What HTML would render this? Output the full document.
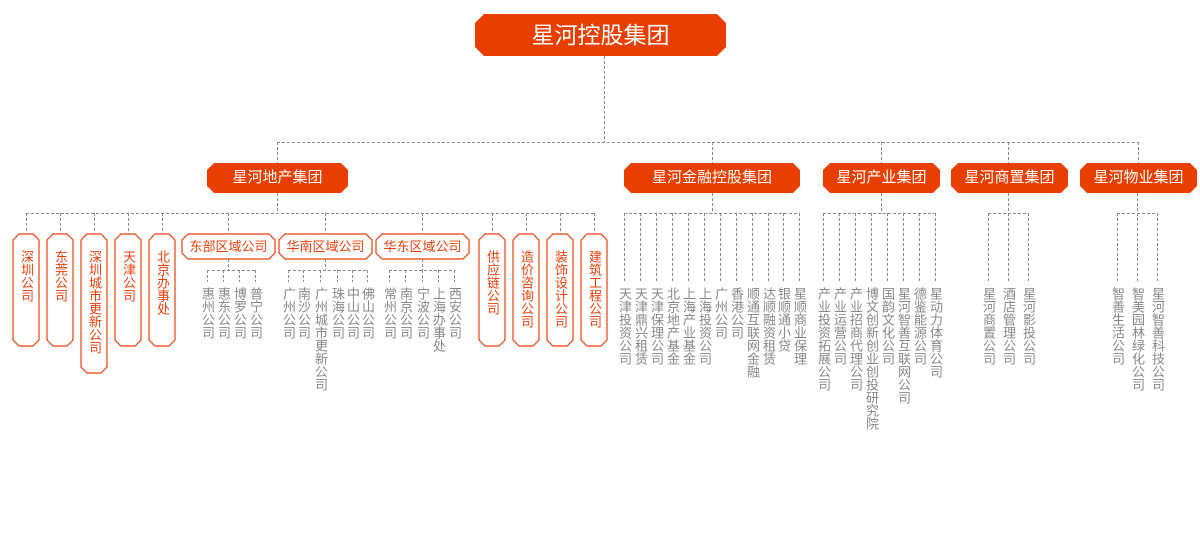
<!DOCTYPE html>
<html><head><meta charset="utf-8"><style>
body{margin:0;width:1200px;height:554px;background:#fff;position:relative;overflow:hidden;font-family:"Liberation Sans","Noto Sans CJK SC",sans-serif}
svg{position:absolute;left:0;top:0}
.t{position:absolute;white-space:nowrap;text-align:center}
.w{color:#fff}
.v{position:absolute;writing-mode:vertical-rl;font-size:13px;line-height:13px;width:13px;color:#888;letter-spacing:0}
.o{color:#e8400c}
</style></head><body>
<svg width="1200" height="554">
<g fill="#e83e00">
<polygon points="484,14 717,14 726,23 726,47 717,56 484,56 475,47 475,23"/>
<polygon points="214,163 341,163 348,170 348,186 341,193 214,193 207,186 207,170"/>
<polygon points="631,163 793,163 800,170 800,186 793,193 631,193 624,186 624,170"/>
<polygon points="830,163 933,163 940,170 940,186 933,193 830,193 823,186 823,170"/>
<polygon points="958,163 1061,163 1068,170 1068,186 1061,193 958,193 951,186 951,170"/>
<polygon points="1087,163 1190,163 1197,170 1197,186 1190,193 1087,193 1080,186 1080,170"/>
</g>
<g fill="#fff" stroke="#e8400c" stroke-width="1.2">
<polygon points="19,234 33,234 39,240 39,340 33,346 19,346 13,340 13,240"/>
<polygon points="53,234 67,234 73,240 73,340 67,346 53,346 47,340 47,240"/>
<polygon points="87,234 101,234 107,240 107,367 101,373 87,373 81,367 81,240"/>
<polygon points="121,234 135,234 141,240 141,340 135,346 121,346 115,340 115,240"/>
<polygon points="155,234 169,234 175,240 175,340 169,346 155,346 149,340 149,240"/>
<polygon points="188,234 269,234 275,240 275,253 269,259 188,259 182,253 182,240"/>
<polygon points="285,234 366,234 372,240 372,253 366,259 285,259 279,253 279,240"/>
<polygon points="382,234 463,234 469,240 469,253 463,259 382,259 376,253 376,240"/>
<polygon points="485,234 499,234 505,240 505,340 499,346 485,346 479,340 479,240"/>
<polygon points="519,234 533,234 539,240 539,340 533,346 519,346 513,340 513,240"/>
<polygon points="553,234 567,234 573,240 573,340 567,346 553,346 547,340 547,240"/>
<polygon points="587,234 601,234 607,240 607,340 601,346 587,346 581,340 581,240"/>
</g>
<g stroke="#888" stroke-width="1" stroke-dasharray="3,2" fill="none">
<path d="M604.5 56V142.5M277 142.5H1138M277.5 142V163M712.5 142V163M881.5 142V163M1008.5 142V163M1138.5 142V163"/>
<path d="M277.5 193V213.5M26 213.5H594M26.5 213V234M60.5 213V234M94.5 213V234M128.5 213V234M162.5 213V234M228.5 213V234M325.5 213V234M422.5 213V234M492.5 213V234M526.5 213V234M560.5 213V234M594.5 213V234"/>
<path d="M228.5 259V270.5M207 270.5H255M207.5 270V282M223.5 270V282M239.5 270V282M255.5 270V282"/>
<path d="M325.5 259V270.5M288 270.5H367M288.5 270V282M303.5 270V282M320.5 270V282M337.5 270V282M352.5 270V282M367.5 270V282"/>
<path d="M422.5 259V270.5M389 270.5H454M389.5 270V282M405.5 270V282M422.5 270V282M438.5 270V282M454.5 270V282"/>
<path d="M712.5 193V213.5M624 213.5H799M624.5 213V283M640.5 213V283M656.5 213V283M672.5 213V283M688.5 213V283M704.5 213V283M720.5 213V283M736.5 213V283M752.5 213V283M768.5 213V283M783.5 213V283M799.5 213V283"/>
<path d="M881.5 193V213.5M823 213.5H935M823.5 213V283M839.5 213V283M855.5 213V283M871.5 213V283M887.5 213V283M903.5 213V283M919.5 213V283M935.5 213V283"/>
<path d="M1008.5 193V283M988 213.5H1028M988.5 213V283M1028.5 213V283"/>
<path d="M1137.5 193V283M1117 213.5H1157M1117.5 213V283M1157.5 213V283"/>
</g>
</svg>
<div class="t w" style="left:475px;top:19px;width:251px;font-size:23px;line-height:32px">星河控股集团</div>
<div class="t w" style="left:207px;top:168px;width:141px;font-size:15px;line-height:20px">星河地产集团</div>
<div class="t w" style="left:624px;top:168px;width:176px;font-size:15px;line-height:20px">星河金融控股集团</div>
<div class="t w" style="left:823px;top:168px;width:117px;font-size:15px;line-height:20px">星河产业集团</div>
<div class="t w" style="left:951px;top:168px;width:117px;font-size:15px;line-height:20px">星河商置集团</div>
<div class="t w" style="left:1080px;top:168px;width:117px;font-size:15px;line-height:20px">星河物业集团</div>
<div class="t o" style="left:182px;top:238px;width:93px;font-size:13px;line-height:17px">东部区域公司</div>
<div class="t o" style="left:279px;top:238px;width:93px;font-size:13px;line-height:17px">华南区域公司</div>
<div class="t o" style="left:376px;top:238px;width:93px;font-size:13px;line-height:17px">华东区域公司</div>
<div class="v o" style="left:20px;top:250px">深圳公司</div>
<div class="v o" style="left:54px;top:250px">东莞公司</div>
<div class="v o" style="left:88px;top:250px">深圳城市更新公司</div>
<div class="v o" style="left:122px;top:250px">天津公司</div>
<div class="v o" style="left:156px;top:250px">北京办事处</div>
<div class="v o" style="left:486px;top:250px">供应链公司</div>
<div class="v o" style="left:520px;top:250px">造价咨询公司</div>
<div class="v o" style="left:554px;top:250px">装饰设计公司</div>
<div class="v o" style="left:588px;top:250px">建筑工程公司</div>
<div class="v" style="left:201px;top:287px">惠州公司</div>
<div class="v" style="left:217px;top:287px">惠东公司</div>
<div class="v" style="left:233px;top:287px">博罗公司</div>
<div class="v" style="left:249px;top:287px">普宁公司</div>
<div class="v" style="left:282px;top:287px">广州公司</div>
<div class="v" style="left:297px;top:287px">南沙公司</div>
<div class="v" style="left:314px;top:287px">广州城市更新公司</div>
<div class="v" style="left:331px;top:287px">珠海公司</div>
<div class="v" style="left:346px;top:287px">中山公司</div>
<div class="v" style="left:361px;top:287px">佛山公司</div>
<div class="v" style="left:383px;top:287px">常州公司</div>
<div class="v" style="left:399px;top:287px">南京公司</div>
<div class="v" style="left:416px;top:287px">宁波公司</div>
<div class="v" style="left:432px;top:287px">上海办事处</div>
<div class="v" style="left:448px;top:287px">西安公司</div>
<div class="v" style="left:618px;top:287px">天津投资公司</div>
<div class="v" style="left:634px;top:287px">天津鼎兴租赁</div>
<div class="v" style="left:650px;top:287px">天津保理公司</div>
<div class="v" style="left:666px;top:287px">北京地产基金</div>
<div class="v" style="left:682px;top:287px">上海产业基金</div>
<div class="v" style="left:698px;top:287px">上海投资公司</div>
<div class="v" style="left:714px;top:287px">广州公司</div>
<div class="v" style="left:730px;top:287px">香港公司</div>
<div class="v" style="left:746px;top:287px">顺通互联网金融</div>
<div class="v" style="left:762px;top:287px">达顺融资租赁</div>
<div class="v" style="left:777px;top:287px">银顺通小贷</div>
<div class="v" style="left:793px;top:287px">星顺商业保理</div>
<div class="v" style="left:817px;top:287px">产业投资拓展公司</div>
<div class="v" style="left:833px;top:287px">产业运营公司</div>
<div class="v" style="left:849px;top:287px">产业招商代理公司</div>
<div class="v" style="left:865px;top:287px">博文创新创业创投研究院</div>
<div class="v" style="left:881px;top:287px">国韵文化公司</div>
<div class="v" style="left:897px;top:287px">星河智善互联网公司</div>
<div class="v" style="left:913px;top:287px">德鉴能源公司</div>
<div class="v" style="left:929px;top:287px">星动力体育公司</div>
<div class="v" style="left:982px;top:287px">星河商置公司</div>
<div class="v" style="left:1002px;top:287px">酒店管理公司</div>
<div class="v" style="left:1022px;top:287px">星河影投公司</div>
<div class="v" style="left:1111px;top:287px">智善生活公司</div>
<div class="v" style="left:1131px;top:287px">智美园林绿化公司</div>
<div class="v" style="left:1151px;top:287px">星河智善科技公司</div>
</body></html>
